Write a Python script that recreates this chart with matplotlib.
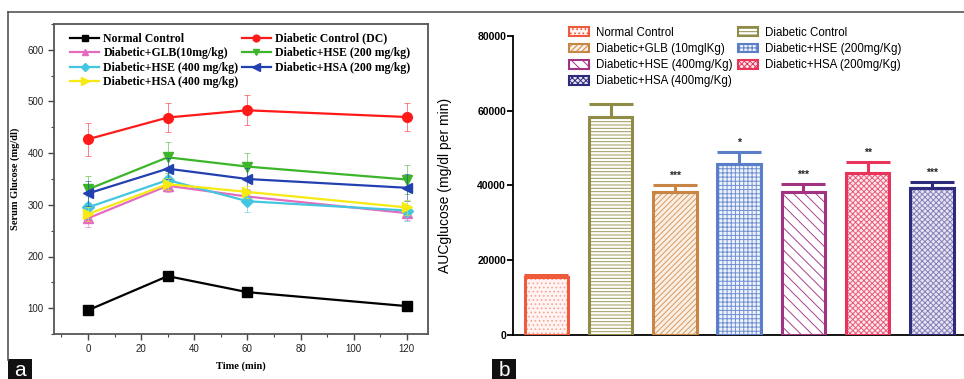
import matplotlib
matplotlib.use("Agg")
from matplotlib import pyplot as plt
from matplotlib.lines import Line2D
from matplotlib.patches import Patch, Rectangle
from matplotlib.ticker import MultipleLocator
import numpy as np

# ---- panel a data: serum glucose vs time ----
time_min = [0, 30, 60, 120]
groups_a = ['Normal Control', 'Diabetic Control (DC)', 'Diabetic+GLB(10mg/kg)',
            'Diabetic+HSE (200 mg/kg)', 'Diabetic+HSE (400 mg/kg)',
            'Diabetic+HSA (200 mg/kg)', 'Diabetic+HSA (400 mg/kg)']
normal_ctrl = [96, 162, 131, 104]
diabetic_ctrl = [427, 469, 483, 470]
dia_glb = [274, 337, 316, 284]
dia_hse200 = [330, 392, 374, 349]
dia_hse400 = [295, 348, 307, 289]
dia_hsa200 = [322, 370, 350, 333]
dia_hsa400 = [282, 340, 325, 295]
err_normal = [4, 5, 4, 4]
err_dc = [32, 29, 29, 28]
err_glb = [16, 12, 14, 14]
err_hse200 = [26, 30, 26, 29]
err_hse400 = [22, 18, 20, 20]
err_hsa200 = [24, 20, 22, 26]
err_hsa400 = [14, 12, 12, 14]

# ---- panel b data: AUC glucose ----
groups_b = ['Normal Control', 'Diabetic Control', 'Diabetic+GLB (10mglKg)',
            'Diabetic+HSE (200mg/Kg)', 'Diabetic+HSE (400mg/Kg)',
            'Diabetic+HSA (200mg/Kg)', 'Diabetic+HSA (400mg/Kg)']
auc_mean = [15600, 58200, 38200, 45700, 38100, 43200, 39200]
auc_err = [500, 3500, 1900, 3100, 2300, 3000, 1600]
auc_sig = ['', '', '***', '*', '***', '**', '***']

W, H = 964, 379
fig = plt.figure(figsize=(W / 100, H / 100), dpi=100)

# outer frame lines of the figure
fig.add_artist(Line2D([8 / W, 1], [1 - 12 / H, 1 - 12 / H], color='#555555', lw=1.2))
fig.add_artist(Line2D([8 / W, 8 / W], [1 - 12 / H, 1 - 360 / H], color='#555555', lw=1.2))

# ================= panel a =================
serif = ['Liberation Serif', 'DejaVu Serif']
sans = ['Liberation Sans', 'DejaVu Sans']
ax1 = fig.add_axes([54 / W, 1 - 334 / H, 374 / W, 310 / H])
series = [normal_ctrl, diabetic_ctrl, dia_glb, dia_hse200, dia_hse400, dia_hsa200, dia_hsa400]
errs = [err_normal, err_dc, err_glb, err_hse200, err_hse400, err_hsa200, err_hsa400]
colors_a = ['black', '#ff1a1a', '#e46cc0', '#3cb52a', '#45c6e0', '#2340b0', '#f7ea12']
markers = ['s', 'o', '^', 'v', 'D', '<', '>']
msizes = [6.5, 7, 6.5, 7, 6, 7.5, 7.5]
handles = []
for vals, e, c, m, ms, lab in zip(series, errs, colors_a, markers, msizes, groups_a):
    ax1.errorbar(time_min, vals, yerr=e, fmt='none', ecolor=c, elinewidth=0.7,
                 capsize=2.5, capthick=0.7, alpha=0.55)
    h, = ax1.plot(time_min, vals, color=c, marker=m, markersize=ms, lw=1.6, label=lab)
    handles.append(h)

ax1.set_xlim(-12.8, 128)
ax1.set_ylim(50, 650)
ax1.xaxis.set_major_locator(MultipleLocator(20))
ax1.xaxis.set_minor_locator(MultipleLocator(10))
ax1.yaxis.set_major_locator(MultipleLocator(100))
ax1.yaxis.set_minor_locator(MultipleLocator(50))
ax1.set_yticks([100, 200, 300, 400, 500, 600])
ax1.tick_params(which='major', direction='out', length=4, width=1, color='#444444',
                labelsize=7, labelcolor='#222222')
ax1.tick_params(which='minor', direction='out', length=2.5, width=0.8, color='#444444')
for lbl in ax1.get_xticklabels() + ax1.get_yticklabels():
    lbl.set_family(sans)
for sp in ax1.spines.values():
    sp.set_color('#555555')
    sp.set_linewidth(1.3)
ax1.set_xlabel('Time (min)', family=serif, fontweight='bold', fontsize=7.5, labelpad=5)
ax1.set_ylabel('Serum Glucose (mg/dl)', family=serif, fontweight='bold', fontsize=7.5, labelpad=5)

order = [0, 2, 4, 6, 1, 3, 5]
ax1.legend([handles[i] for i in order], [groups_a[i] for i in order], ncol=2,
           loc='upper left', bbox_to_anchor=(0.025, 0.995), frameon=False,
           prop={'family': serif, 'weight': 'bold', 'size': 8.5},
           handlelength=2.4, handletextpad=0.4, columnspacing=0.3,
           labelspacing=0.22, markerscale=0.7, borderaxespad=0.2)

# ================= panel b =================
ax2 = fig.add_axes([513 / W, 1 - 335 / H, 451 / W, 299.3 / H])
pos = np.arange(len(auc_mean))
edge_b = ['#ee5a3a', '#8f8c48', '#c98543', '#5a7fc8', '#a23282', '#e8345a', '#2e2a7c']
hatch_b = ['....', '-----', '//////', '++++', '\\\\\\', 'xxxxxx', 'xxxxxx']
face_b = ['#fff4f2', '#ffffff', '#fbefe4', '#eef2fb', '#ffffff', '#fde8ec', '#e6e4f3']
hatchcol_b = ['#f4a898', '#9d9a58', '#d69a62', '#6f8fd0', '#a94090', '#ea5a7a', '#8580b8']
plt.rcParams['hatch.linewidth'] = 0.7
bw = 0.68
for p, v, fc, hc, hp in zip(pos, auc_mean, face_b, hatchcol_b, hatch_b):
    ax2.bar(p, v, width=bw, facecolor=fc, edgecolor=hc, hatch=hp, lw=0, zorder=2)
ax2.bar(pos, auc_mean, width=bw, fill=False, edgecolor=edge_b, lw=2.2, zorder=3)
for p, v, e, c, s in zip(pos, auc_mean, auc_err, edge_b, auc_sig):
    ax2.errorbar(p, v, yerr=[[0], [e]], fmt='none', ecolor=c, elinewidth=2.2,
                 capsize=16, capthick=2.2, zorder=3)
    if s:
        ax2.text(p, v + e + 1100, s, ha='center', va='bottom', fontsize=7.5,
                 fontweight='bold', family=sans, color='#222222')

ax2.set_xlim(-0.52, 6.5)
ax2.set_ylim(0, 80000)
ax2.set_yticks([0, 20000, 40000, 60000, 80000])
ax2.set_xticks([])
ax2.tick_params(axis='y', direction='out', length=4, width=1.3, labelsize=7.5, pad=1)
for lbl in ax2.get_yticklabels():
    lbl.set_family(sans)
    lbl.set_fontweight('bold')
ax2.spines['top'].set_visible(False)
ax2.spines['right'].set_visible(False)
ax2.spines['left'].set_linewidth(1.3)
ax2.spines['bottom'].set_linewidth(1.3)
ax2.set_ylabel('AUCglucose (mg/dl per min)', family=sans, fontsize=10, labelpad=8)
ax2.yaxis.set_label_coords(-0.135, 0.5)

leg_handles = [Patch(facecolor=face_b[i], edgecolor=edge_b[i], hatch=hatch_b[i], lw=1.5)
               for i in range(len(groups_b))]
ax2.legend([leg_handles[i] for i in order], [groups_b[i] for i in order], ncol=2,
           loc='upper left', bbox_to_anchor=(0.115, 1.045), frameon=False,
           prop={'family': sans, 'size': 8.3}, handlelength=1.7, handleheight=0.8,
           handletextpad=0.6, columnspacing=0.5, labelspacing=0.36, borderaxespad=0)

# panel letters
for x0, letter in [(8, 'a'), (492, 'b')]:
    fig.add_artist(Rectangle((x0 / W, 0), 24 / W, 20 / H, transform=fig.transFigure,
                             facecolor='#111111', edgecolor='none'))
    fig.text((x0 + 12) / W, 9 / H, letter, color='white', fontsize=15, family=sans,
             ha='center', va='center')

fig.savefig('out.png', dpi=100)
